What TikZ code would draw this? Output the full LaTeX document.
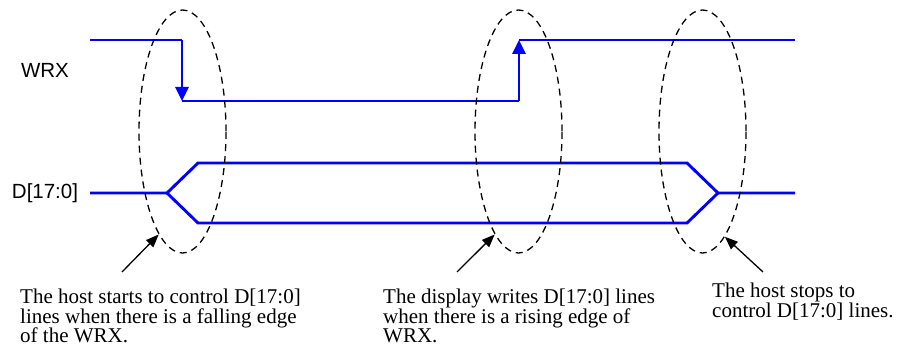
\documentclass[tikz,border=0pt]{standalone}
\usepackage{fontspec}
\setmainfont{Liberation Serif}
\setsansfont{Liberation Sans}
\usepackage{xcolor}
\usepackage{tikz}
\usetikzlibrary{arrows.meta}
\usetikzlibrary{shapes.geometric}

\definecolor{wireblue}{RGB}{0,0,255}

\begin{document}
\begin{tikzpicture}[x=1pt,y=-1pt,
    signal/.style = {wireblue,line width=2.9pt},
    edgeup/.style = {-{Triangle[length=14pt,width=13pt]}},
    window/.style = {draw,ellipse,inner sep=0pt,minimum width=87pt,minimum height=243pt,line width=1.3pt,dash pattern=on 7pt off 5pt},
    pointer/.style = {-{Triangle[length=13pt,width=10pt]},line width=1.3pt},
    wirename/.style = {font=\sffamily\fontsize{20.5}{24}\selectfont},
    note/.style = {anchor=north west,inner sep=0pt,align=left,font=\fontsize{21}{19.5}\selectfont}]
    \useasboundingbox (0,0) rectangle (900,363);

    \node[wirename](wrxLabel) at (45,70) {WRX};
    \node[wirename](dataLabel) at (45,193.5) {D[17:0]};

    % WRX strobe
    \draw [signal] (90,40) -- (182,40);
    \draw [signal,edgeup] (182,40) -- (182,101);
    \draw [signal] (182,101) -- (519,101);
    \draw [signal,edgeup] (519,101) -- (519,40);
    \draw [signal] (519,40) -- (795,40);

    % data bus
    \draw [signal,line join=miter] (90,193) -- (167,193) -- (198,163) -- (687,163) -- (718,193) -- (795,193);
    \draw [signal,line join=miter] (167,193) -- (198,223) -- (687,223) -- (718,193);

    \node[window](startWin) at (182.5,131.5) {};
    \node[window](writeWin) at (518.5,131.5) {};
    \node[window](stopWin) at (702.5,131.5) {};

    \coordinate (startTail) at (122,272);
    \coordinate (writeTail) at (457,272);
    \coordinate (stopTail) at (763,272);
    \draw [pointer] (startTail) -- (startWin.257.7);
    \draw [pointer] (writeTail) -- (writeWin.257.3);
    \draw [pointer] (stopTail) -- (stopWin.282.7);

    \node[note](startNote) at (20,289) {The host starts to control D[17:0]\\lines when there is a falling edge\\of the WRX.};
    \node[note](writeNote) at (383,289) {The display writes D[17:0] lines\\when there is a rising edge of\\WRX.};
    \node[note](stopNote) at (712,283) {The host stops to\\control D[17:0] lines.};
\end{tikzpicture}
\end{document}
